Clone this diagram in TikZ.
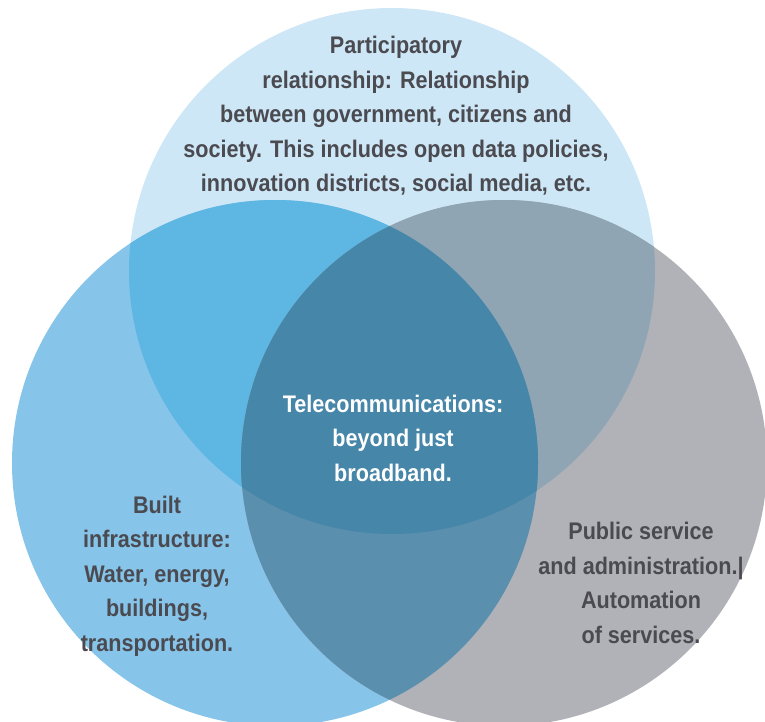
\documentclass[tikz,border=0pt]{standalone}
\usepackage{fontspec}
\setmainfont[FakeStretch=0.9]{Liberation Sans}
\usepackage{xcolor}

\definecolor{topblue}{HTML}{CDE7F6}
\definecolor{leftblue}{HTML}{86C4EA}
\definecolor{rightgray}{HTML}{B1B2B7}
\definecolor{tlblue}{HTML}{5EB6E3}
\definecolor{trgray}{HTML}{8FA5B3}
\definecolor{lrblue}{HTML}{5B8FAE}
\definecolor{midblue}{HTML}{4686A8}
\definecolor{txtgray}{HTML}{4A4A50}

\begin{document}
\begin{tikzpicture}[x=1pt,y=-1pt,
	lbl/.style={align=center,text=txtgray,font=\bfseries\fontsize{24}{34.5}\selectfont}]
	\useasboundingbox (0,0) rectangle (765,722);
	\def\rad{263pt}
	\coordinate (ct) at (392,271);
	\coordinate (cl) at (275,463);
	\coordinate (cr) at (504,463);
	% the three sets
	\fill[topblue] (ct) circle (\rad);
	\fill[leftblue] (cl) circle (\rad);
	\fill[rightgray] (cr) circle (\rad);
	% overlaps
	\begin{scope}
		\clip (ct) circle (\rad);
		\fill[tlblue] (cl) circle (\rad);
		\fill[trgray] (cr) circle (\rad);
	\end{scope}
	\begin{scope}
		\clip (cl) circle (\rad);
		\fill[lrblue] (cr) circle (\rad);
		\clip (ct) circle (\rad);
		\fill[midblue] (cr) circle (\rad);
	\end{scope}
	% labels
	\node[lbl] (partic) at (396,116) {Participatory\\relationship: Relationship\\between government, citizens and\\society. This includes open data policies,\\innovation districts, social media, etc.};
	\node[lbl,text=white] (telecom) at (393,438) {Telecommunications:\\beyond just\\broadband.};
	\node[lbl] (built) at (157,576) {Built\\infrastructure:\\Water, energy,\\buildings,\\transportation.};
	\node[lbl] (public) at (641,583) {Public service\\and administration.|\\Automation\\of services.};
\end{tikzpicture}
\end{document}
